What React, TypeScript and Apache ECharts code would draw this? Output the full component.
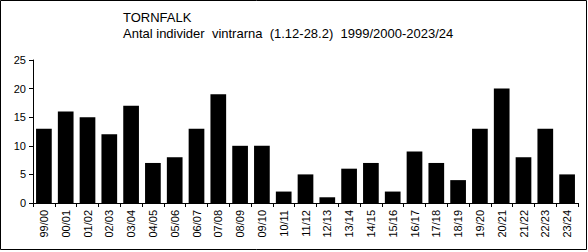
import React, { useEffect, useRef } from "react";
import * as echarts from "echarts";

const categories = ["99/00","00/01","01/02","02/03","03/04","04/05","05/06","06/07","07/08","08/09","09/10","10/11","11/12","12/13","13/14","14/15","15/16","16/17","17/18","18/19","19/20","20/21","21/22","22/23","23/24"];
const values = [13,16,15,12,17,7,8,13,19,10,10,2,5,1,6,7,2,9,7,4,13,20,8,13,5];
const titleText = "TORNFALK";
const subtitleText = "Antal individer  vintrarna  (1.12-28.2)  1999/2000-2023/24";

const FONT = "'Liberation Sans', Arial, sans-serif";

export default function App() {
  const ref = useRef<HTMLDivElement>(null);
  useEffect(() => {
    if (!ref.current) return;
    const chart = echarts.init(ref.current, null, { renderer: "svg" });
    chart.setOption({
      animation: false,
      backgroundColor: "#fff",
      grid: { left: 33, right: 10, top: 60, bottom: 49, containLabel: false },
      graphic: [
        { type: "rect", shape: { x: 0.5, y: 0.5, width: 586, height: 249 }, style: { fill: "none", stroke: "#000", lineWidth: 1 }, silent: true },
        { type: "text", left: 123, top: 11, style: { text: titleText, font: `13px ${FONT}`, fill: "#000" } },
        { type: "text", left: 123, top: 27, style: { text: subtitleText, font: `13px ${FONT}`, fill: "#000" } },
      ],
      xAxis: {
        type: "category",
        data: categories,
        axisLine: { lineStyle: { color: "#000", width: 1 } },
        axisTick: { show: true, alignWithLabel: false, length: 4, inside: false, lineStyle: { color: "#000" } },
        axisLabel: { rotate: 90, color: "#000", fontFamily: FONT, fontSize: 11, margin: 7, interval: 0 },
        splitLine: { show: false },
      },
      yAxis: {
        type: "value",
        min: 0,
        max: 25,
        interval: 5,
        axisLine: { show: true, lineStyle: { color: "#000", width: 1 } },
        axisTick: { show: true, length: 4, lineStyle: { color: "#000" } },
        axisLabel: { color: "#000", fontFamily: FONT, fontSize: 11, margin: 7 },
        splitLine: { show: false },
      },
      series: [
        {
          type: "bar",
          data: values,
          barCategoryGap: "28%",
          itemStyle: { color: "#000" },
        },
      ],
    });
    return () => chart.dispose();
  }, []);
  return <div ref={ref} style={{ position: "absolute", left: 0, top: 0, width: 588, height: 252 }} />;
}
